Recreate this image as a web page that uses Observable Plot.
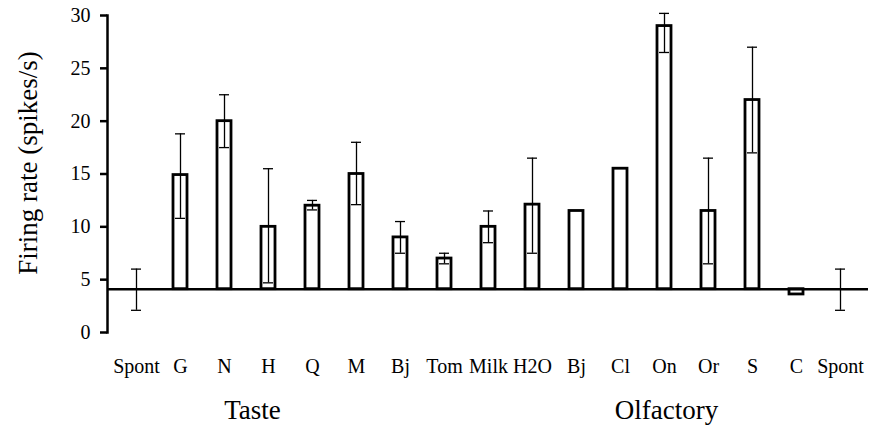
<!DOCTYPE html>
<html><head><meta charset="utf-8">
<script src="https://cdn.jsdelivr.net/npm/d3@7"></script>
<script src="https://cdn.jsdelivr.net/npm/@observablehq/plot@0.6"></script>
<style>body{margin:0;background:#fff} svg, svg text{font-family:'Liberation Serif','Times New Roman',serif !important;}</style>
</head><body><div id="chart"></div>
<script>
const keys = ["Spont1","G","N","H","Q","M","Bj1","Tom","Milk","H2O","Bj2","Cl","On","Or","S","C","Spont2"];
const labels = ["Spont","G","N","H","Q","M","Bj","Tom","Milk","H2O","Bj","Cl","On","Or","S","C","Spont"];
const rates = [4.1, 14.9, 20, 10, 12, 15, 9, 7, 10, 12.1, 11.5, 15.5, 29, 11.5, 22, 3.6, 4.1];
const errLow = [2.1, 10.8, 17.5, 4.7, 11.6, 12.1, 7.5, 6.5, 8.5, 7.5, null, null, 26.5, 6.5, 17, null, 2.1];
const errHigh = [6, 18.8, 22.5, 15.5, 12.5, 18, 10.5, 7.5, 11.5, 16.5, null, null, 30.2, 16.5, 27, null, 6];
const baseline = 4.1;
const yTicks = [0, 5, 10, 15, 20, 25, 30];
const groupNames = ["Taste", "Olfactory"];
const groupAt = ["H", "On"];

const data = keys.map((k, i) => ({key: k, rate: rates[i], lo: errLow[i], hi: errHigh[i]}));
const bars = data.filter(d => d.rate !== baseline);
const errs = data.filter(d => d.lo != null);
const serif = "'Liberation Serif', 'Times New Roman', serif";
const fmtX = k => labels[keys.indexOf(k)];

const chart = Plot.plot({
  width: 872, height: 426,
  marginTop: 15, marginBottom: 94, marginLeft: 107, marginRight: 4,
  style: {fontFamily: serif, background: "#fff", color: "#000"},
  x: {domain: keys, padding: 0, tickFormat: fmtX, label: null},
  y: {domain: [0, 30], ticks: yTicks, label: null},
  marks: [
    Plot.barY(bars, {x: "key", y1: baseline, y2: "rate", fill: "white", stroke: "black", strokeWidth: 2.8, insetLeft: 15, insetRight: 15}),
    Plot.ruleY([baseline], {stroke: "black", strokeWidth: 2.5}),
    Plot.ruleX(errs, {x: "key", y1: "lo", y2: "hi", stroke: "black", strokeWidth: 1.3}),
    Plot.tickY(errs, {x: "key", y: "lo", inset: 17, stroke: "black", strokeWidth: 1.3}),
    Plot.tickY(errs, {x: "key", y: "hi", inset: 17, stroke: "black", strokeWidth: 1.3}),
    Plot.axisY({ticks: yTicks, tickSize: 7, tickPadding: 10, fontSize: 20, fontFamily: serif, strokeWidth: 2.5, label: null}),
    Plot.axisX({tickSize: 0, tickPadding: 26, fontSize: 20, fontFamily: serif, tickFormat: fmtX, label: null}),
    Plot.frame({anchor: "left", stroke: "black", strokeWidth: 2.5}),
    Plot.text(["Firing rate (spikes/s)"], {frameAnchor: "left", textAnchor: "middle", rotate: -90, dx: -79, dy: -11, fontSize: 27, fontFamily: serif}),
    Plot.text([groupNames[0]], {x: [groupAt[0]], text: d => d, frameAnchor: "bottom", lineAnchor: "middle", dy: 78, dx: -16, fontSize: 27, fontFamily: serif}),
    Plot.text([groupNames[1]], {x: [groupAt[1]], text: d => d, frameAnchor: "bottom", lineAnchor: "middle", dy: 78, dx: 2, fontSize: 27, fontFamily: serif})
  ]
});
document.getElementById("chart").appendChild(chart);
</script>
</body></html>
